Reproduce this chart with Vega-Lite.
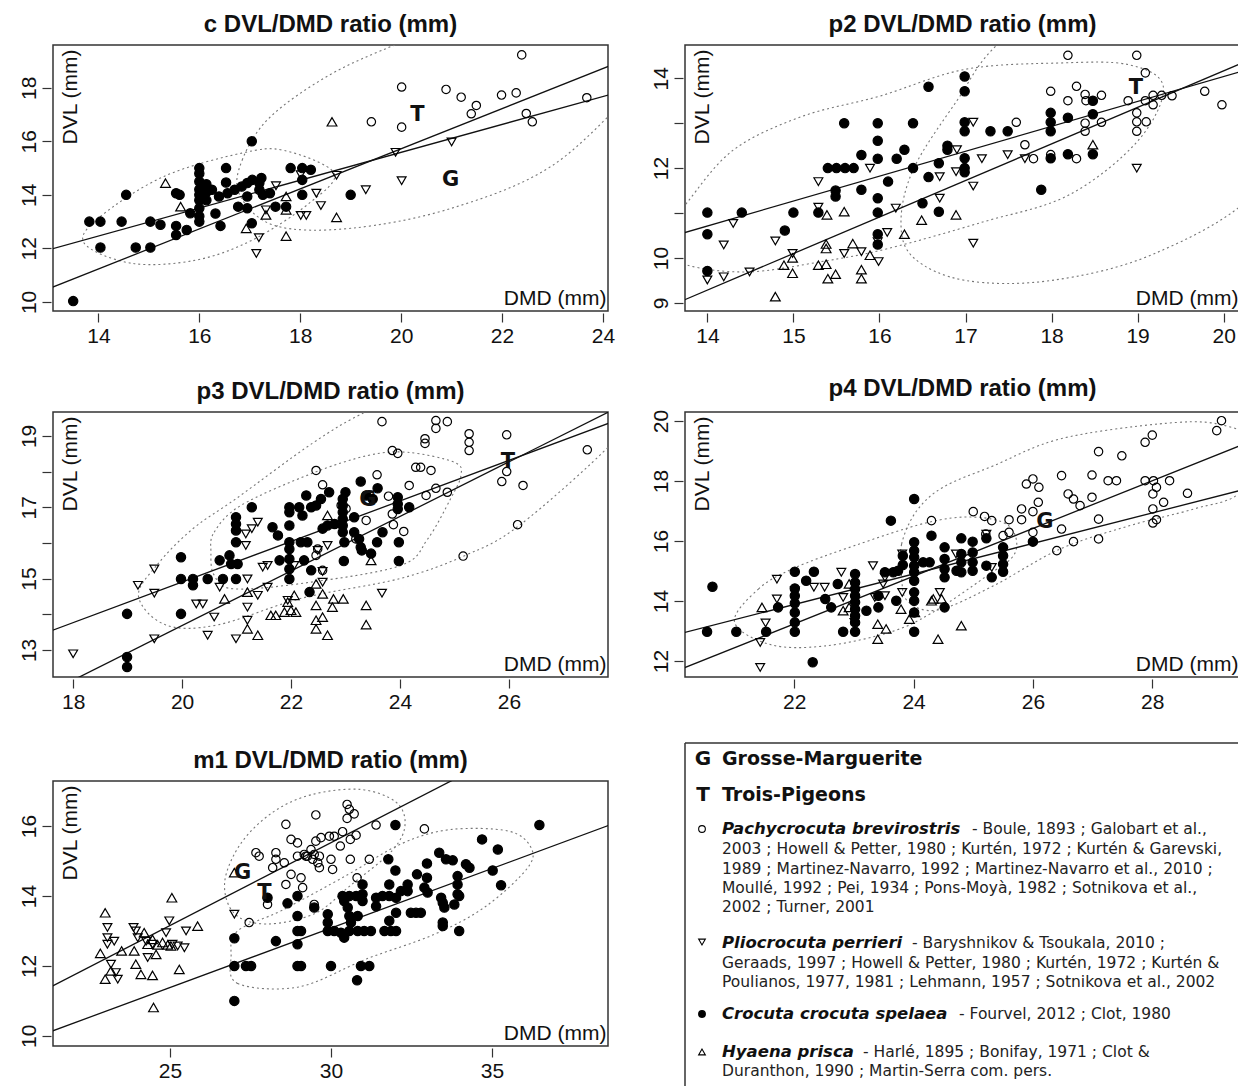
{
"$schema":"https://vega.github.io/schema/vega-lite/v6.json",
"background":"white",
"padding":{"left":17,"top":12,"right":0,"bottom":0},
"datasets":{
"cp":[
{"s":"P","x":22.39,"y":19.23},{"s":"P","x":20.01,"y":18.03},{"s":"P","x":20.89,"y":17.94},{"s":"P","x":21.19,"y":17.65},{"s":"P","x":21.99,"y":17.73},{"s":"P","x":22.28,"y":17.81},{"s":"P","x":21.49,"y":17.34},{"s":"P","x":21.39,"y":17.03},{"s":"P","x":22.48,"y":17.04},{"s":"P","x":22.6,"y":16.73},{"s":"P","x":23.68,"y":17.63},{"s":"P","x":19.41,"y":16.73},{"s":"P","x":20.01,"y":16.53},
{"s":"L","x":19.89,"y":15.59},{"s":"L","x":21.0,"y":15.98},{"s":"L","x":20.01,"y":14.53},{"s":"L","x":19.3,"y":14.19},{"s":"L","x":18.72,"y":14.73},{"s":"L","x":18.32,"y":14.06},{"s":"L","x":18.41,"y":13.6},{"s":"L","x":18.01,"y":13.23},{"s":"L","x":18.12,"y":13.23},{"s":"L","x":17.18,"y":12.4},{"s":"L","x":17.13,"y":11.81},{"s":"L","x":17.52,"y":14.34},{"s":"L","x":17.32,"y":13.44},{"s":"L","x":18.01,"y":14.75},
{"s":"H","x":15.33,"y":14.44},{"s":"H","x":18.63,"y":16.73},{"s":"H","x":15.63,"y":13.56},{"s":"H","x":16.93,"y":12.75},{"s":"H","x":17.32,"y":13.25},{"s":"H","x":17.72,"y":13.94},{"s":"H","x":17.72,"y":13.44},{"s":"H","x":17.72,"y":12.46},{"s":"H","x":18.72,"y":13.16},
{"s":"C","x":13.5,"y":10.03},{"s":"C","x":13.82,"y":13.0},{"s":"C","x":14.04,"y":13.0},{"s":"C","x":14.46,"y":13.0},{"s":"C","x":14.04,"y":12.03},{"s":"C","x":14.74,"y":12.03},{"s":"C","x":15.03,"y":12.03},{"s":"C","x":14.55,"y":14.0},{"s":"C","x":15.03,"y":13.0},{"s":"C","x":15.23,"y":12.88},{"s":"C","x":15.54,"y":14.06},{"s":"C","x":15.61,"y":14.0},{"s":"C","x":15.54,"y":12.84},{"s":"C","x":15.54,"y":12.5},{"s":"C","x":15.75,"y":12.69},{"s":"C","x":15.82,"y":13.31},{"s":"C","x":16.0,"y":15.0},{"s":"C","x":16.0,"y":14.8},{"s":"C","x":16.0,"y":14.5},{"s":"C","x":16.0,"y":14.2},{"s":"C","x":16.0,"y":14.0},{"s":"C","x":16.0,"y":13.8},{"s":"C","x":16.0,"y":13.5},{"s":"C","x":16.0,"y":13.2},{"s":"C","x":16.0,"y":13.0},{"s":"C","x":16.14,"y":14.4},{"s":"C","x":16.14,"y":14.1},{"s":"C","x":16.14,"y":13.8},{"s":"C","x":16.32,"y":13.3},{"s":"C","x":16.42,"y":12.84},{"s":"C","x":16.53,"y":15.0},{"s":"C","x":16.53,"y":14.46},{"s":"C","x":16.25,"y":14.19},{"s":"C","x":16.39,"y":13.94},{"s":"C","x":16.56,"y":14.06},{"s":"C","x":16.7,"y":14.19},{"s":"C","x":16.84,"y":14.31},{"s":"C","x":16.95,"y":14.44},{"s":"C","x":17.05,"y":14.56},{"s":"C","x":17.23,"y":14.63},{"s":"C","x":16.77,"y":13.56},{"s":"C","x":16.95,"y":13.94},{"s":"C","x":16.95,"y":13.5},{"s":"C","x":17.04,"y":16.0},{"s":"C","x":17.04,"y":12.94},{"s":"C","x":17.26,"y":14.0},{"s":"C","x":17.4,"y":14.06},{"s":"C","x":17.51,"y":13.56},{"s":"C","x":17.72,"y":13.56},{"s":"C","x":17.81,"y":15.0},{"s":"C","x":18.04,"y":15.0},{"s":"C","x":18.21,"y":14.94},{"s":"C","x":18.04,"y":14.56},{"s":"C","x":18.04,"y":14.0},{"s":"C","x":19.0,"y":14.0},{"s":"C","x":17.19,"y":14.44},{"s":"C","x":17.19,"y":14.19}
],
"cl":[{"g":1,"x":13.0,"y":11.94},{"g":1,"x":24.2,"y":17.78},{"g":2,"x":13.0,"y":10.48},{"g":2,"x":24.2,"y":18.87}],
"ct":[{"t":"G","x":20.98,"y":14.56},{"t":"T","x":20.32,"y":17.0}],
"ce":[
{"e":1,"i":0,"x":13.72,"y":12.19},{"e":1,"i":1,"x":14.04,"y":13.19},{"e":1,"i":2,"x":15.3,"y":14.69},{"e":1,"i":3,"x":16.84,"y":15.56},{"e":1,"i":4,"x":17.68,"y":15.66},{"e":1,"i":5,"x":18.67,"y":14.81},{"e":1,"i":6,"x":18.18,"y":13.69},{"e":1,"i":7,"x":17.05,"y":12.31},{"e":1,"i":8,"x":15.93,"y":11.56},{"e":1,"i":9,"x":14.67,"y":11.44},
{"e":2,"i":0,"x":16.8,"y":14.0},{"e":2,"i":1,"x":16.85,"y":15.3},{"e":2,"i":2,"x":17.4,"y":16.9},{"e":2,"i":3,"x":18.6,"y":18.5},{"e":2,"i":4,"x":20.0,"y":19.7},{"e":2,"i":5,"x":22.0,"y":21.2},{"e":2,"i":6,"x":24.5,"y":22.3},{"e":2,"i":7,"x":26.0,"y":22.0},{"e":2,"i":8,"x":26.0,"y":20.0},{"e":2,"i":9,"x":24.8,"y":18.2},{"e":2,"i":10,"x":23.0,"y":15.1},{"e":2,"i":11,"x":21.0,"y":13.5},{"e":2,"i":12,"x":19.0,"y":12.75},{"e":2,"i":13,"x":17.5,"y":12.85}
],
"p2p":[
{"s":"C","x":14.0,"y":11.01},{"s":"C","x":14.0,"y":10.53},{"s":"C","x":14.0,"y":9.71},{"s":"C","x":14.4,"y":11.01},{"s":"C","x":14.9,"y":10.61},{"s":"C","x":15.0,"y":11.01},{"s":"C","x":15.29,"y":11.01},{"s":"C","x":15.4,"y":12.0},{"s":"C","x":15.5,"y":12.0},{"s":"C","x":15.6,"y":12.0},{"s":"C","x":15.7,"y":12.0},{"s":"C","x":15.49,"y":11.5},{"s":"C","x":15.49,"y":11.37},{"s":"C","x":15.59,"y":13.0},{"s":"C","x":15.79,"y":12.29},{"s":"C","x":15.79,"y":11.52},{"s":"C","x":15.98,"y":13.0},{"s":"C","x":15.98,"y":12.61},{"s":"C","x":15.98,"y":12.21},{"s":"C","x":15.98,"y":11.33},{"s":"C","x":15.98,"y":11.01},{"s":"C","x":15.98,"y":10.53},{"s":"C","x":15.98,"y":10.3},{"s":"C","x":16.1,"y":11.7},{"s":"C","x":16.2,"y":12.21},{"s":"C","x":16.29,"y":12.41},{"s":"C","x":16.39,"y":13.0},{"s":"C","x":16.39,"y":12.0},{"s":"C","x":16.5,"y":11.22},{"s":"C","x":16.57,"y":13.81},{"s":"C","x":16.57,"y":11.8},{"s":"C","x":16.99,"y":14.04},{"s":"C","x":16.99,"y":13.71},{"s":"C","x":16.99,"y":13.02},{"s":"C","x":16.99,"y":12.82},{"s":"C","x":17.29,"y":12.82},{"s":"C","x":17.49,"y":12.82},{"s":"C","x":16.79,"y":12.5},{"s":"C","x":16.79,"y":12.41},{"s":"C","x":16.99,"y":12.22},{"s":"C","x":16.99,"y":12.0},{"s":"C","x":16.99,"y":11.91},{"s":"C","x":16.69,"y":12.11},{"s":"C","x":16.69,"y":11.03},{"s":"C","x":17.99,"y":13.23},{"s":"C","x":17.99,"y":13.02},{"s":"C","x":17.99,"y":12.82},{"s":"C","x":18.19,"y":13.12},{"s":"C","x":18.48,"y":13.5},{"s":"C","x":18.48,"y":13.2},{"s":"C","x":17.99,"y":12.22},{"s":"C","x":18.19,"y":12.31},{"s":"C","x":18.48,"y":12.31},{"s":"C","x":17.88,"y":11.52},
{"s":"L","x":14.0,"y":9.51},{"s":"L","x":14.19,"y":10.29},{"s":"L","x":14.3,"y":10.77},{"s":"L","x":14.19,"y":9.58},{"s":"L","x":14.49,"y":9.69},{"s":"L","x":14.79,"y":10.38},{"s":"L","x":14.99,"y":10.1},{"s":"L","x":15.29,"y":11.7},{"s":"L","x":15.29,"y":11.13},{"s":"L","x":15.59,"y":10.1},{"s":"L","x":15.89,"y":12.0},{"s":"L","x":15.79,"y":10.14},{"s":"L","x":15.98,"y":10.36},{"s":"L","x":16.09,"y":10.57},{"s":"L","x":16.19,"y":11.11},{"s":"L","x":15.99,"y":9.92},{"s":"L","x":17.09,"y":13.02},{"s":"L","x":16.9,"y":12.41},{"s":"L","x":17.19,"y":12.21},{"s":"L","x":17.49,"y":12.3},{"s":"L","x":17.69,"y":12.21},{"s":"L","x":16.7,"y":11.81},{"s":"L","x":16.89,"y":11.92},{"s":"L","x":17.09,"y":11.6},{"s":"L","x":16.7,"y":11.33},{"s":"L","x":17.09,"y":10.33},{"s":"L","x":18.99,"y":12.0},
{"s":"H","x":14.79,"y":9.14},{"s":"H","x":14.89,"y":9.84},{"s":"H","x":14.99,"y":10.0},{"s":"H","x":14.99,"y":9.66},{"s":"H","x":15.29,"y":9.84},{"s":"H","x":15.38,"y":10.31},{"s":"H","x":15.38,"y":10.21},{"s":"H","x":15.38,"y":9.86},{"s":"H","x":15.4,"y":9.54},{"s":"H","x":15.49,"y":9.64},{"s":"H","x":15.59,"y":11.03},{"s":"H","x":15.69,"y":10.32},{"s":"H","x":15.79,"y":9.74},{"s":"H","x":15.79,"y":9.54},{"s":"H","x":15.89,"y":10.06},{"s":"H","x":16.29,"y":10.53},{"s":"H","x":16.49,"y":10.84},{"s":"H","x":15.39,"y":10.96},{"s":"H","x":16.89,"y":10.96},{"s":"H","x":18.48,"y":12.52},
{"s":"P","x":18.19,"y":14.51},{"s":"P","x":18.99,"y":14.51},{"s":"P","x":19.09,"y":14.12},{"s":"P","x":18.29,"y":13.82},{"s":"P","x":17.99,"y":13.71},{"s":"P","x":18.19,"y":13.5},{"s":"P","x":18.39,"y":13.64},{"s":"P","x":18.4,"y":13.5},{"s":"P","x":18.58,"y":13.62},{"s":"P","x":18.89,"y":13.5},{"s":"P","x":19.09,"y":13.5},{"s":"P","x":19.18,"y":13.62},{"s":"P","x":19.28,"y":13.62},{"s":"P","x":19.4,"y":13.61},{"s":"P","x":19.18,"y":13.41},{"s":"P","x":18.99,"y":13.23},{"s":"P","x":18.99,"y":13.03},{"s":"P","x":19.1,"y":13.03},{"s":"P","x":18.99,"y":12.82},{"s":"P","x":19.78,"y":13.71},{"s":"P","x":19.98,"y":13.41},{"s":"P","x":18.58,"y":13.02},{"s":"P","x":18.39,"y":13.0},{"s":"P","x":18.39,"y":12.82},{"s":"P","x":17.59,"y":13.02},{"s":"P","x":17.69,"y":12.52},{"s":"P","x":17.79,"y":12.21},{"s":"P","x":17.99,"y":12.3},{"s":"P","x":18.29,"y":12.21}
],
"p2l":[{"g":1,"x":13.6,"y":10.49},{"g":1,"x":20.4,"y":14.26},{"g":2,"x":13.6,"y":8.96},{"g":2,"x":20.4,"y":14.49}],
"p2t":[{"t":"T","x":18.98,"y":13.78}],
"p2e":[
{"e":1,"i":0,"x":13.4,"y":10.3},{"e":1,"i":1,"x":13.75,"y":11.2},{"e":1,"i":2,"x":14.3,"y":12.4},{"e":1,"i":3,"x":15.1,"y":13.15},{"e":1,"i":4,"x":16.0,"y":13.6},{"e":1,"i":5,"x":17.0,"y":14.2},{"e":1,"i":6,"x":18.1,"y":14.34},{"e":1,"i":7,"x":18.9,"y":14.3},{"e":1,"i":8,"x":19.3,"y":13.8},{"e":1,"i":9,"x":19.0,"y":12.6},{"e":1,"i":10,"x":18.2,"y":11.4},{"e":1,"i":11,"x":17.2,"y":10.8},{"e":1,"i":12,"x":16.1,"y":10.21},{"e":1,"i":13,"x":15.33,"y":9.92},{"e":1,"i":14,"x":14.47,"y":9.69},{"e":1,"i":15,"x":13.75,"y":9.85},
{"e":2,"i":0,"x":16.25,"y":10.8},{"e":2,"i":1,"x":16.4,"y":12.0},{"e":2,"i":2,"x":16.9,"y":13.5},{"e":2,"i":3,"x":17.4,"y":14.8},{"e":2,"i":4,"x":18.5,"y":16.2},{"e":2,"i":5,"x":20.0,"y":16.8},{"e":2,"i":6,"x":21.2,"y":16.2},{"e":2,"i":7,"x":21.2,"y":14.0},{"e":2,"i":8,"x":20.4,"y":11.5},{"e":2,"i":9,"x":19.2,"y":10.1},{"e":2,"i":10,"x":18.0,"y":9.5},{"e":2,"i":11,"x":17.0,"y":9.5},{"e":2,"i":12,"x":16.4,"y":10.0}
],
"p3p":[
{"s":"L","x":18.0,"y":12.89},{"s":"L","x":19.19,"y":14.81},{"s":"L","x":19.49,"y":15.27},{"s":"L","x":19.49,"y":14.59},{"s":"L","x":19.49,"y":13.31},{"s":"L","x":20.26,"y":14.29},{"s":"L","x":20.38,"y":14.29},{"s":"L","x":20.59,"y":13.92},{"s":"L","x":20.47,"y":13.41},{"s":"L","x":20.69,"y":14.76},{"s":"L","x":20.99,"y":13.31},{"s":"L","x":21.17,"y":16.25},{"s":"L","x":21.28,"y":16.4},{"s":"L","x":21.39,"y":16.58},{"s":"L","x":21.17,"y":15.93},{"s":"L","x":21.2,"y":14.99},{"s":"L","x":21.2,"y":14.2},{"s":"L","x":21.2,"y":13.83},{"s":"L","x":21.39,"y":14.53},{"s":"L","x":21.48,"y":15.32},{"s":"L","x":21.57,"y":15.37},{"s":"L","x":21.57,"y":14.76},{"s":"L","x":22.06,"y":15.37},{"s":"L","x":21.94,"y":14.39},{"s":"L","x":22.67,"y":15.93},{"s":"L","x":22.49,"y":15.79},{"s":"L","x":22.58,"y":15.2},{"s":"L","x":22.58,"y":14.9},{"s":"L","x":23.67,"y":14.59},
{"s":"H","x":20.78,"y":14.43},{"s":"H","x":21.2,"y":14.62},{"s":"H","x":21.2,"y":13.59},{"s":"H","x":21.39,"y":13.41},{"s":"H","x":21.63,"y":13.97},{"s":"H","x":21.72,"y":13.97},{"s":"H","x":21.88,"y":14.06},{"s":"H","x":22.0,"y":14.11},{"s":"H","x":22.09,"y":14.06},{"s":"H","x":21.94,"y":14.34},{"s":"H","x":22.06,"y":14.53},{"s":"H","x":22.67,"y":16.77},{"s":"H","x":23.47,"y":15.51},{"s":"H","x":22.46,"y":14.85},{"s":"H","x":22.58,"y":14.57},{"s":"H","x":22.46,"y":14.25},{"s":"H","x":22.46,"y":13.83},{"s":"H","x":22.46,"y":13.59},{"s":"H","x":22.58,"y":13.92},{"s":"H","x":22.78,"y":14.43},{"s":"H","x":22.96,"y":14.43},{"s":"H","x":22.76,"y":14.2},{"s":"H","x":23.38,"y":14.25},{"s":"H","x":23.38,"y":13.71},{"s":"H","x":22.67,"y":13.41},
{"s":"C","x":18.99,"y":14.01},{"s":"C","x":18.99,"y":12.8},{"s":"C","x":18.99,"y":12.52},{"s":"C","x":19.98,"y":15.6},{"s":"C","x":19.98,"y":14.99},{"s":"C","x":19.98,"y":14.01},{"s":"C","x":20.2,"y":14.99},{"s":"C","x":20.2,"y":14.81},{"s":"C","x":20.47,"y":14.99},{"s":"C","x":20.69,"y":15.51},{"s":"C","x":20.75,"y":14.99},{"s":"C","x":20.87,"y":15.65},{"s":"C","x":20.9,"y":15.41},{"s":"C","x":20.99,"y":16.72},{"s":"C","x":20.99,"y":16.53},{"s":"C","x":20.99,"y":16.35},{"s":"C","x":20.99,"y":16.02},{"s":"C","x":20.99,"y":14.99},{"s":"C","x":21.02,"y":15.41},{"s":"C","x":21.28,"y":17.0},{"s":"C","x":21.66,"y":16.44},{"s":"C","x":21.76,"y":16.21},{"s":"C","x":21.79,"y":15.51},{"s":"C","x":21.97,"y":17.0},{"s":"C","x":21.97,"y":16.86},{"s":"C","x":21.97,"y":16.49},{"s":"C","x":21.97,"y":16.02},{"s":"C","x":21.97,"y":15.83},{"s":"C","x":21.97,"y":15.55},{"s":"C","x":21.97,"y":15.27},{"s":"C","x":21.97,"y":14.99},{"s":"C","x":22.28,"y":17.33},{"s":"C","x":22.15,"y":17.0},{"s":"C","x":22.21,"y":16.77},{"s":"C","x":22.18,"y":16.02},{"s":"C","x":22.3,"y":16.02},{"s":"C","x":22.24,"y":15.51},{"s":"C","x":22.34,"y":14.62},{"s":"C","x":23.28,"y":17.72},{"s":"C","x":23.59,"y":17.53},{"s":"C","x":23.0,"y":17.42},{"s":"C","x":22.7,"y":17.42},{"s":"C","x":22.55,"y":17.23},{"s":"C","x":22.37,"y":17.0},{"s":"C","x":22.46,"y":17.05},{"s":"C","x":22.95,"y":17.23},{"s":"C","x":22.95,"y":17.05},{"s":"C","x":22.95,"y":16.86},{"s":"C","x":22.95,"y":16.67},{"s":"C","x":22.95,"y":16.49},{"s":"C","x":22.95,"y":16.3},{"s":"C","x":22.8,"y":16.53},{"s":"C","x":22.67,"y":16.49},{"s":"C","x":22.58,"y":16.4},{"s":"C","x":23.16,"y":16.72},{"s":"C","x":23.16,"y":16.3},{"s":"C","x":23.25,"y":16.11},{"s":"C","x":23.38,"y":17.33},{"s":"C","x":23.5,"y":17.23},{"s":"C","x":23.96,"y":17.28},{"s":"C","x":23.96,"y":17.09},{"s":"C","x":23.96,"y":16.95},{"s":"C","x":24.17,"y":17.0},{"s":"C","x":23.68,"y":16.3},{"s":"C","x":23.58,"y":16.02},{"s":"C","x":22.98,"y":16.02},{"s":"C","x":23.28,"y":15.88},{"s":"C","x":23.3,"y":15.79},{"s":"C","x":23.47,"y":15.7},{"s":"C","x":22.97,"y":15.49},{"s":"C","x":23.98,"y":16.02},{"s":"C","x":23.98,"y":15.49},{"s":"C","x":22.37,"y":15.23},
{"s":"P","x":23.67,"y":19.4},{"s":"P","x":24.66,"y":19.43},{"s":"P","x":24.66,"y":19.21},{"s":"P","x":24.87,"y":19.4},{"s":"P","x":24.46,"y":18.92},{"s":"P","x":24.46,"y":18.79},{"s":"P","x":25.27,"y":19.06},{"s":"P","x":25.27,"y":18.82},{"s":"P","x":25.27,"y":18.59},{"s":"P","x":25.96,"y":19.03},{"s":"P","x":27.44,"y":18.61},{"s":"P","x":23.86,"y":18.59},{"s":"P","x":23.96,"y":18.51},{"s":"P","x":24.29,"y":18.12},{"s":"P","x":24.38,"y":18.12},{"s":"P","x":24.57,"y":18.03},{"s":"P","x":22.46,"y":18.03},{"s":"P","x":23.58,"y":17.91},{"s":"P","x":25.96,"y":18.0},{"s":"P","x":25.87,"y":17.72},{"s":"P","x":26.26,"y":17.61},{"s":"P","x":24.17,"y":17.61},{"s":"P","x":24.66,"y":17.53},{"s":"P","x":24.87,"y":17.42},{"s":"P","x":24.48,"y":17.33},{"s":"P","x":22.58,"y":17.63},{"s":"P","x":23.79,"y":17.31},{"s":"P","x":23.86,"y":16.81},{"s":"P","x":23.38,"y":16.63},{"s":"P","x":24.07,"y":16.32},{"s":"P","x":23.88,"y":16.51},{"s":"P","x":26.16,"y":16.51},{"s":"P","x":25.16,"y":15.63},{"s":"P","x":22.46,"y":15.65},{"s":"P","x":22.49,"y":15.83},{"s":"P","x":22.92,"y":17.05},{"s":"P","x":23.01,"y":16.96},{"s":"P","x":22.58,"y":15.23},{"s":"P","x":23.19,"y":16.11}
],
"p3l":[{"g":1,"x":17.5,"y":13.48},{"g":1,"x":28.0,"y":19.45},{"g":2,"x":17.5,"y":11.77},{"g":2,"x":28.0,"y":19.8}],
"p3t":[{"t":"G","x":23.41,"y":17.19},{"t":"T","x":25.98,"y":18.26}],
"p3e":[
{"e":1,"i":0,"x":19.2,"y":14.5},{"e":1,"i":1,"x":19.55,"y":15.4},{"e":1,"i":2,"x":20.2,"y":16.4},{"e":1,"i":3,"x":21.0,"y":17.25},{"e":1,"i":4,"x":22.4,"y":18.8},{"e":1,"i":5,"x":23.4,"y":19.7},{"e":1,"i":6,"x":25.0,"y":20.8},{"e":1,"i":7,"x":27.5,"y":21.5},{"e":1,"i":8,"x":28.8,"y":20.5},{"e":1,"i":9,"x":27.9,"y":18.8},{"e":1,"i":10,"x":26.2,"y":16.5},{"e":1,"i":11,"x":25.2,"y":15.65},{"e":1,"i":12,"x":24.0,"y":15.0},{"e":1,"i":13,"x":22.2,"y":14.45},{"e":1,"i":14,"x":20.65,"y":13.7},{"e":1,"i":15,"x":19.7,"y":13.7},
{"e":2,"i":0,"x":20.53,"y":15.74},{"e":2,"i":1,"x":20.59,"y":16.3},{"e":2,"i":2,"x":21.08,"y":17.05},{"e":2,"i":3,"x":22.37,"y":17.94},{"e":2,"i":4,"x":23.41,"y":18.45},{"e":2,"i":5,"x":24.14,"y":18.54},{"e":2,"i":6,"x":25.0,"y":18.26},{"e":2,"i":7,"x":25.12,"y":17.89},{"e":2,"i":8,"x":24.93,"y":17.24},{"e":2,"i":9,"x":24.51,"y":16.11},{"e":2,"i":10,"x":24.02,"y":15.37},{"e":2,"i":11,"x":22.37,"y":14.9},{"e":2,"i":12,"x":20.96,"y":14.71},{"e":2,"i":13,"x":20.59,"y":15.09}
],
"p4p":[
{"s":"C","x":20.54,"y":12.98},{"s":"C","x":20.63,"y":14.48},{"s":"C","x":21.03,"y":12.98},{"s":"C","x":21.53,"y":12.98},{"s":"C","x":21.73,"y":13.79},{"s":"C","x":22.01,"y":14.98},{"s":"C","x":22.01,"y":14.42},{"s":"C","x":22.01,"y":14.18},{"s":"C","x":22.01,"y":13.93},{"s":"C","x":22.01,"y":13.62},{"s":"C","x":22.01,"y":13.29},{"s":"C","x":22.01,"y":12.98},{"s":"C","x":22.2,"y":14.68},{"s":"C","x":22.33,"y":14.98},{"s":"C","x":22.31,"y":11.96},{"s":"C","x":22.52,"y":14.07},{"s":"C","x":22.62,"y":13.79},{"s":"C","x":22.73,"y":14.57},{"s":"C","x":22.82,"y":12.98},{"s":"C","x":23.02,"y":14.9},{"s":"C","x":23.02,"y":14.62},{"s":"C","x":23.02,"y":14.4},{"s":"C","x":23.02,"y":14.18},{"s":"C","x":23.02,"y":13.96},{"s":"C","x":23.02,"y":13.73},{"s":"C","x":23.02,"y":13.51},{"s":"C","x":23.02,"y":13.29},{"s":"C","x":23.02,"y":12.98},{"s":"C","x":23.21,"y":13.68},{"s":"C","x":23.41,"y":13.79},{"s":"C","x":23.41,"y":14.18},{"s":"C","x":23.62,"y":16.68},{"s":"C","x":23.71,"y":14.01},{"s":"C","x":23.52,"y":14.96},{"s":"C","x":23.66,"y":14.96},{"s":"C","x":23.74,"y":15.01},{"s":"C","x":23.82,"y":15.2},{"s":"C","x":23.82,"y":15.51},{"s":"C","x":24.01,"y":17.4},{"s":"C","x":24.01,"y":15.96},{"s":"C","x":24.01,"y":15.68},{"s":"C","x":24.01,"y":15.46},{"s":"C","x":24.01,"y":15.18},{"s":"C","x":24.01,"y":14.96},{"s":"C","x":24.01,"y":14.68},{"s":"C","x":24.01,"y":14.29},{"s":"C","x":24.01,"y":14.01},{"s":"C","x":24.01,"y":13.62},{"s":"C","x":24.01,"y":12.98},{"s":"C","x":24.16,"y":15.29},{"s":"C","x":24.3,"y":16.18},{"s":"C","x":24.52,"y":15.79},{"s":"C","x":24.8,"y":16.09},{"s":"C","x":24.99,"y":15.98},{"s":"C","x":25.22,"y":16.09},{"s":"C","x":25.5,"y":15.79},{"s":"C","x":25.5,"y":15.51},{"s":"C","x":25.5,"y":15.23},{"s":"C","x":25.5,"y":14.98},{"s":"C","x":25.31,"y":14.79},{"s":"C","x":25.22,"y":15.18},{"s":"C","x":24.99,"y":15.62},{"s":"C","x":24.99,"y":15.29},{"s":"C","x":24.99,"y":15.01},{"s":"C","x":24.8,"y":15.57},{"s":"C","x":24.8,"y":15.29},{"s":"C","x":24.8,"y":14.96},{"s":"C","x":24.52,"y":15.4},{"s":"C","x":24.52,"y":15.07},{"s":"C","x":24.52,"y":14.79},{"s":"C","x":24.72,"y":15.01},{"s":"C","x":24.27,"y":15.29},{"s":"C","x":26.0,"y":15.98},{"s":"C","x":24.52,"y":13.79},
{"s":"L","x":21.43,"y":11.79},{"s":"L","x":21.43,"y":12.62},{"s":"L","x":21.52,"y":13.27},{"s":"L","x":21.71,"y":14.73},{"s":"L","x":21.71,"y":14.07},{"s":"L","x":22.01,"y":14.34},{"s":"L","x":22.33,"y":14.46},{"s":"L","x":22.51,"y":14.46},{"s":"L","x":22.79,"y":14.96},{"s":"L","x":22.82,"y":14.12},{"s":"L","x":23.01,"y":14.29},{"s":"L","x":23.01,"y":13.29},{"s":"L","x":23.32,"y":15.18},{"s":"L","x":23.49,"y":14.57},{"s":"L","x":23.52,"y":14.79},{"s":"L","x":23.52,"y":14.18},{"s":"L","x":23.81,"y":15.57},{"s":"L","x":23.81,"y":14.29},{"s":"L","x":23.35,"y":14.12},{"s":"L","x":24.71,"y":15.57},{"s":"L","x":25.22,"y":16.23},{"s":"L","x":25.31,"y":15.12},{"s":"L","x":24.44,"y":14.29},
{"s":"H","x":21.46,"y":13.79},{"s":"H","x":22.82,"y":13.68},{"s":"H","x":23.4,"y":12.73},{"s":"H","x":23.4,"y":13.23},{"s":"H","x":23.54,"y":13.07},{"s":"H","x":23.79,"y":13.73},{"s":"H","x":23.93,"y":13.4},{"s":"H","x":22.92,"y":14.57},{"s":"H","x":22.92,"y":13.79},{"s":"H","x":24.3,"y":14.01},{"s":"H","x":24.02,"y":13.62},{"s":"H","x":24.33,"y":14.07},{"s":"H","x":24.47,"y":14.07},{"s":"H","x":24.8,"y":13.18},{"s":"H","x":24.41,"y":12.73},
{"s":"P","x":29.16,"y":20.01},{"s":"P","x":29.08,"y":19.68},{"s":"P","x":28.0,"y":19.53},{"s":"P","x":27.88,"y":19.29},{"s":"P","x":27.1,"y":18.98},{"s":"P","x":27.49,"y":18.84},{"s":"P","x":26.48,"y":18.18},{"s":"P","x":26.99,"y":18.2},{"s":"P","x":27.26,"y":18.01},{"s":"P","x":27.4,"y":18.01},{"s":"P","x":27.88,"y":18.01},{"s":"P","x":28.02,"y":18.01},{"s":"P","x":28.29,"y":18.01},{"s":"P","x":28.07,"y":17.79},{"s":"P","x":28.01,"y":17.57},{"s":"P","x":28.59,"y":17.59},{"s":"P","x":28.19,"y":17.29},{"s":"P","x":28.01,"y":17.07},{"s":"P","x":28.01,"y":16.6},{"s":"P","x":28.07,"y":16.71},{"s":"P","x":25.89,"y":17.9},{"s":"P","x":26.0,"y":18.07},{"s":"P","x":26.1,"y":17.79},{"s":"P","x":26.59,"y":17.57},{"s":"P","x":26.68,"y":17.4},{"s":"P","x":26.79,"y":17.18},{"s":"P","x":26.99,"y":17.46},{"s":"P","x":26.09,"y":17.29},{"s":"P","x":25.81,"y":17.07},{"s":"P","x":26.0,"y":16.98},{"s":"P","x":25.0,"y":16.98},{"s":"P","x":25.19,"y":16.82},{"s":"P","x":25.31,"y":16.68},{"s":"P","x":25.6,"y":16.71},{"s":"P","x":25.81,"y":16.71},{"s":"P","x":27.1,"y":16.73},{"s":"P","x":27.1,"y":16.07},{"s":"P","x":26.68,"y":15.98},{"s":"P","x":26.48,"y":16.4},{"s":"P","x":26.4,"y":15.68},{"s":"P","x":26.0,"y":16.29},{"s":"P","x":25.6,"y":16.29},{"s":"P","x":25.5,"y":16.18},{"s":"P","x":24.3,"y":16.68},{"s":"P","x":25.21,"y":16.23}
],
"p4l":[{"g":1,"x":20.0,"y":12.87},{"g":1,"x":29.6,"y":17.75},{"g":2,"x":20.0,"y":11.65},{"g":2,"x":29.6,"y":19.28}],
"p4t":[{"t":"G","x":26.2,"y":16.62}],
"p4e":[
{"e":1,"i":0,"x":21.0,"y":13.3},{"e":1,"i":1,"x":21.4,"y":14.4},{"e":1,"i":2,"x":22.0,"y":15.1},{"e":1,"i":3,"x":23.0,"y":15.84},{"e":1,"i":4,"x":24.2,"y":16.6},{"e":1,"i":5,"x":25.0,"y":16.8},{"e":1,"i":6,"x":25.6,"y":16.5},{"e":1,"i":7,"x":25.7,"y":15.6},{"e":1,"i":8,"x":25.2,"y":14.8},{"e":1,"i":9,"x":24.3,"y":13.6},{"e":1,"i":10,"x":23.6,"y":12.96},{"e":1,"i":11,"x":22.5,"y":12.5},{"e":1,"i":12,"x":21.6,"y":12.55},
{"e":2,"i":0,"x":23.8,"y":14.8},{"e":2,"i":1,"x":23.8,"y":15.9},{"e":2,"i":2,"x":24.05,"y":17.0},{"e":2,"i":3,"x":24.5,"y":17.8},{"e":2,"i":4,"x":25.33,"y":18.5},{"e":2,"i":5,"x":26.45,"y":19.4},{"e":2,"i":6,"x":28.1,"y":19.9},{"e":2,"i":7,"x":29.1,"y":19.9},{"e":2,"i":8,"x":29.8,"y":19.2},{"e":2,"i":9,"x":29.47,"y":17.62},{"e":2,"i":10,"x":28.7,"y":17.07},{"e":2,"i":11,"x":27.6,"y":16.5},{"e":2,"i":12,"x":26.45,"y":15.73},{"e":2,"i":13,"x":25.33,"y":14.5},{"e":2,"i":14,"x":24.4,"y":13.7},{"e":2,"i":15,"x":23.9,"y":14.0}
],
"m1p":[
{"s":"H","x":22.99,"y":13.52},{"s":"H","x":22.84,"y":12.36},{"s":"H","x":22.99,"y":11.62},{"s":"H","x":23.5,"y":12.43},{"s":"H","x":23.89,"y":12.43},{"s":"H","x":24.1,"y":11.76},{"s":"H","x":23.94,"y":12.05},{"s":"H","x":24.2,"y":12.95},{"s":"H","x":24.31,"y":12.62},{"s":"H","x":24.46,"y":12.76},{"s":"H","x":24.46,"y":11.73},{"s":"H","x":24.49,"y":10.81},{"s":"H","x":24.57,"y":12.33},{"s":"H","x":24.77,"y":12.67},{"s":"H","x":25.06,"y":13.95},{"s":"H","x":25.29,"y":11.9},{"s":"H","x":25.03,"y":12.57},{"s":"H","x":25.86,"y":13.14},{"s":"H","x":24.62,"y":12.6},{"s":"H","x":24.93,"y":12.6},{"s":"H","x":23.17,"y":11.86},{"s":"H","x":27.0,"y":14.67},
{"s":"L","x":23.06,"y":13.1},{"s":"L","x":23.06,"y":12.81},{"s":"L","x":23.06,"y":12.62},{"s":"L","x":23.27,"y":12.71},{"s":"L","x":23.17,"y":12.05},{"s":"L","x":23.32,"y":11.81},{"s":"L","x":23.38,"y":11.62},{"s":"L","x":23.87,"y":13.1},{"s":"L","x":23.94,"y":13.0},{"s":"L","x":24.0,"y":12.81},{"s":"L","x":24.26,"y":12.71},{"s":"L","x":24.31,"y":12.24},{"s":"L","x":24.46,"y":12.62},{"s":"L","x":24.98,"y":13.29},{"s":"L","x":24.88,"y":12.95},{"s":"L","x":25.08,"y":12.62},{"s":"L","x":25.24,"y":12.57},{"s":"L","x":25.45,"y":12.52},{"s":"L","x":25.5,"y":13.0},{"s":"L","x":27.0,"y":13.48},
{"s":"C","x":27.0,"y":12.79},{"s":"C","x":27.0,"y":12.0},{"s":"C","x":27.0,"y":11.0},{"s":"C","x":27.36,"y":12.0},{"s":"C","x":27.52,"y":12.0},{"s":"C","x":28.03,"y":13.95},{"s":"C","x":28.29,"y":12.71},{"s":"C","x":28.65,"y":13.79},{"s":"C","x":28.96,"y":14.0},{"s":"C","x":28.96,"y":13.43},{"s":"C","x":28.96,"y":13.0},{"s":"C","x":28.96,"y":12.62},{"s":"C","x":28.96,"y":12.0},{"s":"C","x":32.0,"y":16.03},{"s":"C","x":36.47,"y":16.03},{"s":"C","x":34.69,"y":15.62},{"s":"C","x":35.18,"y":15.33},{"s":"C","x":33.36,"y":15.24},{"s":"C","x":33.57,"y":15.05},{"s":"C","x":33.78,"y":15.02},{"s":"C","x":31.78,"y":15.05},{"s":"C","x":32.98,"y":14.93},{"s":"C","x":34.19,"y":14.91},{"s":"C","x":34.3,"y":14.81},{"s":"C","x":32.0,"y":14.73},{"s":"C","x":32.67,"y":14.62},{"s":"C","x":32.98,"y":14.52},{"s":"C","x":33.93,"y":14.57},{"s":"C","x":33.93,"y":14.33},{"s":"C","x":33.93,"y":14.05},{"s":"C","x":35.02,"y":14.73},{"s":"C","x":35.28,"y":14.31},{"s":"C","x":30.98,"y":14.33},{"s":"C","x":31.81,"y":14.33},{"s":"C","x":31.81,"y":14.0},{"s":"C","x":32.38,"y":14.33},{"s":"C","x":32.38,"y":14.14},{"s":"C","x":32.9,"y":14.24},{"s":"C","x":33.0,"y":14.1},{"s":"C","x":32.17,"y":14.14},{"s":"C","x":32.02,"y":13.95},{"s":"C","x":31.6,"y":14.0},{"s":"C","x":31.4,"y":13.95},{"s":"C","x":31.4,"y":13.71},{"s":"C","x":30.98,"y":14.05},{"s":"C","x":30.98,"y":13.86},{"s":"C","x":30.36,"y":14.0},{"s":"C","x":30.57,"y":14.0},{"s":"C","x":30.78,"y":14.0},{"s":"C","x":30.41,"y":13.86},{"s":"C","x":30.52,"y":13.67},{"s":"C","x":30.57,"y":13.43},{"s":"C","x":30.62,"y":13.24},{"s":"C","x":30.57,"y":13.0},{"s":"C","x":29.9,"y":13.48},{"s":"C","x":29.9,"y":13.24},{"s":"C","x":29.9,"y":13.0},{"s":"C","x":29.48,"y":13.67},{"s":"C","x":30.1,"y":13.0},{"s":"C","x":30.31,"y":12.95},{"s":"C","x":30.41,"y":12.81},{"s":"C","x":30.83,"y":13.43},{"s":"C","x":30.83,"y":13.0},{"s":"C","x":31.03,"y":13.0},{"s":"C","x":31.24,"y":13.0},{"s":"C","x":31.66,"y":13.0},{"s":"C","x":31.86,"y":13.0},{"s":"C","x":32.02,"y":13.0},{"s":"C","x":31.81,"y":13.29},{"s":"C","x":32.02,"y":13.52},{"s":"C","x":32.48,"y":13.52},{"s":"C","x":32.64,"y":13.52},{"s":"C","x":32.79,"y":13.52},{"s":"C","x":33.42,"y":13.95},{"s":"C","x":33.47,"y":13.81},{"s":"C","x":33.52,"y":13.67},{"s":"C","x":33.83,"y":13.76},{"s":"C","x":33.98,"y":14.0},{"s":"C","x":33.47,"y":13.24},{"s":"C","x":33.47,"y":13.14},{"s":"C","x":33.98,"y":13.0},{"s":"C","x":30.0,"y":12.0},{"s":"C","x":30.93,"y":12.0},{"s":"C","x":31.19,"y":12.0},{"s":"C","x":30.81,"y":11.59},{"s":"C","x":29.07,"y":12.0},{"s":"C","x":29.07,"y":13.0},
{"s":"P","x":28.6,"y":16.05},{"s":"P","x":28.76,"y":15.62},{"s":"P","x":28.96,"y":15.52},{"s":"P","x":27.67,"y":15.24},{"s":"P","x":27.77,"y":15.14},{"s":"P","x":28.29,"y":15.24},{"s":"P","x":28.29,"y":15.05},{"s":"P","x":28.19,"y":14.81},{"s":"P","x":28.55,"y":14.95},{"s":"P","x":28.96,"y":15.14},{"s":"P","x":28.76,"y":14.62},{"s":"P","x":29.07,"y":14.52},{"s":"P","x":29.12,"y":14.24},{"s":"P","x":28.6,"y":14.33},{"s":"P","x":28.03,"y":13.76},{"s":"P","x":27.46,"y":13.24},{"s":"P","x":29.22,"y":15.14},{"s":"P","x":30.5,"y":16.62},{"s":"P","x":30.57,"y":16.48},{"s":"P","x":30.72,"y":16.35},{"s":"P","x":30.5,"y":16.22},{"s":"P","x":29.53,"y":16.32},{"s":"P","x":31.4,"y":16.03},{"s":"P","x":32.9,"y":15.92},{"s":"P","x":30.36,"y":15.84},{"s":"P","x":30.1,"y":15.71},{"s":"P","x":29.95,"y":15.71},{"s":"P","x":29.69,"y":15.67},{"s":"P","x":29.53,"y":15.57},{"s":"P","x":30.6,"y":15.62},{"s":"P","x":30.78,"y":15.74},{"s":"P","x":30.29,"y":15.43},{"s":"P","x":29.38,"y":15.33},{"s":"P","x":29.17,"y":15.19},{"s":"P","x":29.27,"y":15.14},{"s":"P","x":29.48,"y":15.19},{"s":"P","x":29.64,"y":15.14},{"s":"P","x":29.43,"y":15.05},{"s":"P","x":29.59,"y":14.95},{"s":"P","x":29.64,"y":14.81},{"s":"P","x":30.0,"y":15.05},{"s":"P","x":30.05,"y":14.76},{"s":"P","x":30.6,"y":15.05},{"s":"P","x":31.19,"y":15.05},{"s":"P","x":30.81,"y":14.52},{"s":"P","x":29.48,"y":13.76}
],
"m1l":[{"g":1,"x":21.0,"y":11.26},{"g":1,"x":39.0,"y":19.79},{"g":2,"x":21.0,"y":10.02},{"g":2,"x":39.0,"y":16.15}],
"m1t":[{"t":"G","x":27.26,"y":14.67},{"t":"T","x":27.93,"y":14.1}],
"m1e":[
{"e":1,"i":0,"x":26.7,"y":14.4},{"e":1,"i":1,"x":27.2,"y":15.5},{"e":1,"i":2,"x":28.2,"y":16.4},{"e":1,"i":3,"x":29.4,"y":16.9},{"e":1,"i":4,"x":30.9,"y":17.05},{"e":1,"i":5,"x":32.0,"y":16.7},{"e":1,"i":6,"x":32.3,"y":16.05},{"e":1,"i":7,"x":31.9,"y":15.3},{"e":1,"i":8,"x":30.6,"y":14.3},{"e":1,"i":9,"x":29.5,"y":13.5},{"e":1,"i":10,"x":28.0,"y":13.2},{"e":1,"i":11,"x":27.0,"y":13.5},
{"e":2,"i":0,"x":26.9,"y":12.3},{"e":2,"i":1,"x":27.1,"y":11.5},{"e":2,"i":2,"x":29.0,"y":11.4},{"e":2,"i":3,"x":31.1,"y":12.2},{"e":2,"i":4,"x":33.2,"y":12.9},{"e":2,"i":5,"x":34.8,"y":13.7},{"e":2,"i":6,"x":36.1,"y":14.8},{"e":2,"i":7,"x":36.2,"y":15.4},{"e":2,"i":8,"x":35.5,"y":15.86},{"e":2,"i":9,"x":33.7,"y":15.9},{"e":2,"i":10,"x":32.2,"y":15.5},{"e":2,"i":11,"x":30.5,"y":14.6},{"e":2,"i":12,"x":28.5,"y":13.6},{"e":2,"i":13,"x":27.1,"y":13.0}
],
"lg":[
{"f":"L","x":18,"y":-22,"t":"G"},{"f":"L","x":18,"y":14,"t":"T"},
{"f":"B","x":37,"y":-22,"t":"Grosse-Marguerite"},{"f":"B","x":37,"y":14,"t":"Trois-Pigeons"},
{"f":"I","x":37,"y":48,"t":"Pachycrocuta brevirostris"},{"f":"I","x":37,"y":162,"t":"Pliocrocuta perrieri"},{"f":"I","x":37,"y":233,"t":"Crocuta crocuta spelaea"},{"f":"I","x":37,"y":271,"t":"Hyaena prisca"},
{"f":"N","x":287,"y":48,"t":"- Boule, 1893 ; Galobart et al.,"},
{"f":"N","x":37,"y":68,"t":"2003 ; Howell & Petter, 1980 ; Kurtén, 1972 ; Kurtén & Garevski,"},
{"f":"N","x":37,"y":88,"t":"1989 ; Martinez-Navarro, 1992 ; Martinez-Navarro et al., 2010 ;"},
{"f":"N","x":37,"y":107,"t":"Moullé, 1992 ; Pei, 1934 ; Pons-Moyà, 1982 ; Sotnikova et al.,"},
{"f":"N","x":37,"y":126,"t":"2002 ; Turner, 2001"},
{"f":"N","x":227,"y":162,"t":"- Baryshnikov & Tsoukala, 2010 ;"},
{"f":"N","x":37,"y":182,"t":"Geraads, 1997 ; Howell & Petter, 1980 ; Kurtén, 1972 ; Kurtén &"},
{"f":"N","x":37,"y":201,"t":"Poulianos, 1977, 1981 ; Lehmann, 1957 ; Sotnikova et al., 2002"},
{"f":"N","x":274,"y":233,"t":"- Fourvel, 2012 ; Clot, 1980"},
{"f":"N","x":178,"y":271,"t":"- Harlé, 1895 ; Bonifay, 1971 ; Clot &"},
{"f":"N","x":37,"y":290,"t":"Duranthon, 1990 ; Martin-Serra com. pers."}
],
"lm":[{"s":"P","x":17,"y":48},{"s":"L","x":17,"y":161},{"s":"C","x":17,"y":233},{"s":"H","x":17,"y":271}],
"lb":[{"x":0,"y":-38,"x2":0,"y2":330},{"x":0,"y":-38,"x2":570,"y2":-38}]
},
"spacing":29,
"resolve":{"scale":{"x":"independent","y":"independent"}},
"vconcat":[
{"bounds":"flush","spacing":77,"resolve":{"scale":{"x":"independent","y":"independent"}},
"hconcat":[
{"title":"c DVL/DMD ratio (mm)","width":555,"height":266,
"layer":[
{"data":{"name":"ce"},"mark":{"type":"line","interpolate":"cardinal-closed","clip":true,"strokeDash":[2,3],"color":"#777","strokeWidth":1.1},
"encoding":{"x":{"field":"x","type":"quantitative","scale":{"domain":[13.1,24.1],"nice":false,"zero":false},"axis":{"values":[14,16,18,20,22,24],"format":"d","title":"DMD (mm)"}},"y":{"field":"y","type":"quantitative","scale":{"domain":[9.66,19.6],"nice":false,"zero":false},"axis":{"values":[10,12,14,16,18],"format":"d","title":"DVL (mm)"}},"detail":{"field":"e","type":"nominal"},"order":{"field":"i","type":"quantitative"}}},
{"data":{"name":"cl"},"mark":{"type":"line","clip":true,"color":"#111","strokeWidth":1.3},"encoding":{"x":{"field":"x","type":"quantitative"},"y":{"field":"y","type":"quantitative"},"detail":{"field":"g","type":"nominal"}}},
{"data":{"name":"cp"},"mark":{"type":"point","filled":true,"opacity":1,"stroke":"black","strokeWidth":1.2},"encoding":{"x":{"field":"x","type":"quantitative"},"y":{"field":"y","type":"quantitative"},"shape":{"field":"s","type":"nominal","scale":{"domain":["P","L","C","H"],"range":["circle","triangle-down","circle","triangle-up"]},"legend":null},"fill":{"field":"s","type":"nominal","scale":{"domain":["P","L","C","H"],"range":["rgba(0,0,0,0)","rgba(0,0,0,0)","#000000","rgba(0,0,0,0)"]},"legend":null},"size":{"field":"s","type":"nominal","scale":{"domain":["P","L","C","H"],"range":[70,95,72,95]},"legend":null}}},
{"data":{"name":"ct"},"mark":{"type":"text","font":"DejaVu Sans","fontWeight":"bold","fontSize":21,"color":"#111"},"encoding":{"x":{"field":"x","type":"quantitative"},"y":{"field":"y","type":"quantitative"},"text":{"field":"t"}}}
]},
{"title":"p2 DVL/DMD ratio (mm)","width":555,"height":266,
"layer":[
{"data":{"name":"p2e"},"mark":{"type":"line","interpolate":"cardinal-closed","clip":true,"strokeDash":[2,3],"color":"#777","strokeWidth":1.1},
"encoding":{"x":{"field":"x","type":"quantitative","scale":{"domain":[13.74,20.19],"nice":false,"zero":false},"axis":{"values":[14,15,16,17,18,19,20],"format":"d","title":"DMD (mm)"}},"y":{"field":"y","type":"quantitative","scale":{"domain":[8.82,14.74],"nice":false,"zero":false},"axis":{"values":[9,10,11,12,13,14],"labelExpr":"datum.value == 11 || datum.value == 13 ? '' : format(datum.value, 'd')","title":"DVL (mm)"}},"detail":{"field":"e","type":"nominal"},"order":{"field":"i","type":"quantitative"}}},
{"data":{"name":"p2l"},"mark":{"type":"line","clip":true,"color":"#111","strokeWidth":1.3},"encoding":{"x":{"field":"x","type":"quantitative"},"y":{"field":"y","type":"quantitative"},"detail":{"field":"g","type":"nominal"}}},
{"data":{"name":"p2p"},"mark":{"type":"point","filled":true,"opacity":1,"stroke":"black","strokeWidth":1.2},"encoding":{"x":{"field":"x","type":"quantitative"},"y":{"field":"y","type":"quantitative"},"shape":{"field":"s","type":"nominal","scale":{"domain":["P","L","C","H"],"range":["circle","triangle-down","circle","triangle-up"]},"legend":null},"fill":{"field":"s","type":"nominal","scale":{"domain":["P","L","C","H"],"range":["rgba(0,0,0,0)","rgba(0,0,0,0)","#000000","rgba(0,0,0,0)"]},"legend":null},"size":{"field":"s","type":"nominal","scale":{"domain":["P","L","C","H"],"range":[70,95,72,95]},"legend":null}}},
{"data":{"name":"p2t"},"mark":{"type":"text","font":"DejaVu Sans","fontWeight":"bold","fontSize":21,"color":"#111"},"encoding":{"x":{"field":"x","type":"quantitative"},"y":{"field":"y","type":"quantitative"},"text":{"field":"t"}}}
]}
]},
{"bounds":"flush","spacing":77,"resolve":{"scale":{"x":"independent","y":"independent"}},
"hconcat":[
{"title":"p3 DVL/DMD ratio (mm)","width":555,"height":265,
"layer":[
{"data":{"name":"p3e"},"mark":{"type":"line","interpolate":"cardinal-closed","clip":true,"strokeDash":[2,3],"color":"#777","strokeWidth":1.1},
"encoding":{"x":{"field":"x","type":"quantitative","scale":{"domain":[17.63,27.82],"nice":false,"zero":false},"axis":{"values":[18,20,22,24,26],"format":"d","title":"DMD (mm)"}},"y":{"field":"y","type":"quantitative","scale":{"domain":[12.24,19.67],"nice":false,"zero":false},"axis":{"values":[13,14,15,16,17,18,19],"labelExpr":"datum.value % 2 == 1 ? format(datum.value, 'd') : ''","title":"DVL (mm)"}},"detail":{"field":"e","type":"nominal"},"order":{"field":"i","type":"quantitative"}}},
{"data":{"name":"p3l"},"mark":{"type":"line","clip":true,"color":"#111","strokeWidth":1.3},"encoding":{"x":{"field":"x","type":"quantitative"},"y":{"field":"y","type":"quantitative"},"detail":{"field":"g","type":"nominal"}}},
{"data":{"name":"p3p"},"mark":{"type":"point","filled":true,"opacity":1,"stroke":"black","strokeWidth":1.2},"encoding":{"x":{"field":"x","type":"quantitative"},"y":{"field":"y","type":"quantitative"},"shape":{"field":"s","type":"nominal","scale":{"domain":["P","L","C","H"],"range":["circle","triangle-down","circle","triangle-up"]},"legend":null},"fill":{"field":"s","type":"nominal","scale":{"domain":["P","L","C","H"],"range":["rgba(0,0,0,0)","rgba(0,0,0,0)","#000000","rgba(0,0,0,0)"]},"legend":null},"size":{"field":"s","type":"nominal","scale":{"domain":["P","L","C","H"],"range":[70,95,72,95]},"legend":null}}},
{"data":{"name":"p3t"},"mark":{"type":"text","font":"DejaVu Sans","fontWeight":"bold","fontSize":21,"color":"#111"},"encoding":{"x":{"field":"x","type":"quantitative"},"y":{"field":"y","type":"quantitative"},"text":{"field":"t"}}}
]},
{"title":"p4 DVL/DMD ratio (mm)","width":555,"height":265,
"layer":[
{"data":{"name":"p4e"},"mark":{"type":"line","interpolate":"cardinal-closed","clip":true,"strokeDash":[2,3],"color":"#777","strokeWidth":1.1},
"encoding":{"x":{"field":"x","type":"quantitative","scale":{"domain":[20.17,29.47],"nice":false,"zero":false},"axis":{"values":[22,24,26,28],"format":"d","title":"DMD (mm)"}},"y":{"field":"y","type":"quantitative","scale":{"domain":[11.47,20.3],"nice":false,"zero":false},"axis":{"values":[12,14,16,18,20],"format":"d","title":"DVL (mm)"}},"detail":{"field":"e","type":"nominal"},"order":{"field":"i","type":"quantitative"}}},
{"data":{"name":"p4l"},"mark":{"type":"line","clip":true,"color":"#111","strokeWidth":1.3},"encoding":{"x":{"field":"x","type":"quantitative"},"y":{"field":"y","type":"quantitative"},"detail":{"field":"g","type":"nominal"}}},
{"data":{"name":"p4p"},"mark":{"type":"point","filled":true,"opacity":1,"stroke":"black","strokeWidth":1.2},"encoding":{"x":{"field":"x","type":"quantitative"},"y":{"field":"y","type":"quantitative"},"shape":{"field":"s","type":"nominal","scale":{"domain":["P","L","C","H"],"range":["circle","triangle-down","circle","triangle-up"]},"legend":null},"fill":{"field":"s","type":"nominal","scale":{"domain":["P","L","C","H"],"range":["rgba(0,0,0,0)","rgba(0,0,0,0)","#000000","rgba(0,0,0,0)"]},"legend":null},"size":{"field":"s","type":"nominal","scale":{"domain":["P","L","C","H"],"range":[70,95,72,95]},"legend":null}}},
{"data":{"name":"p4t"},"mark":{"type":"text","font":"DejaVu Sans","fontWeight":"bold","fontSize":21,"color":"#111"},"encoding":{"x":{"field":"x","type":"quantitative"},"y":{"field":"y","type":"quantitative"},"text":{"field":"t"}}}
]}
]},
{"bounds":"flush","spacing":77,"resolve":{"scale":{"x":"independent","y":"independent"}},
"hconcat":[
{"title":"m1 DVL/DMD ratio (mm)","width":555,"height":265,
"layer":[
{"data":{"name":"m1e"},"mark":{"type":"line","interpolate":"cardinal-closed","clip":true,"strokeDash":[2,3],"color":"#777","strokeWidth":1.1},
"encoding":{"x":{"field":"x","type":"quantitative","scale":{"domain":[21.37,38.6],"nice":false,"zero":false},"axis":{"values":[25,30,35],"format":"d","title":"DMD (mm)"}},"y":{"field":"y","type":"quantitative","scale":{"domain":[9.71,17.29],"nice":false,"zero":false},"axis":{"values":[10,11,12,13,14,15,16,17],"labelExpr":"datum.value % 2 == 0 ? format(datum.value, 'd') : ''","title":"DVL (mm)"}},"detail":{"field":"e","type":"nominal"},"order":{"field":"i","type":"quantitative"}}},
{"data":{"name":"m1l"},"mark":{"type":"line","clip":true,"color":"#111","strokeWidth":1.3},"encoding":{"x":{"field":"x","type":"quantitative"},"y":{"field":"y","type":"quantitative"},"detail":{"field":"g","type":"nominal"}}},
{"data":{"name":"m1p"},"mark":{"type":"point","filled":true,"opacity":1,"stroke":"black","strokeWidth":1.2},"encoding":{"x":{"field":"x","type":"quantitative"},"y":{"field":"y","type":"quantitative"},"shape":{"field":"s","type":"nominal","scale":{"domain":["P","L","C","H"],"range":["circle","triangle-down","circle","triangle-up"]},"legend":null},"fill":{"field":"s","type":"nominal","scale":{"domain":["P","L","C","H"],"range":["rgba(0,0,0,0)","rgba(0,0,0,0)","#000000","rgba(0,0,0,0)"]},"legend":null},"size":{"field":"s","type":"nominal","scale":{"domain":["P","L","C","H"],"range":[70,95,72,95]},"legend":null}}},
{"data":{"name":"m1t"},"mark":{"type":"text","font":"DejaVu Sans","fontWeight":"bold","fontSize":21,"color":"#111"},"encoding":{"x":{"field":"x","type":"quantitative"},"y":{"field":"y","type":"quantitative"},"text":{"field":"t"}}}
]},
{"width":555,"height":265,"view":{"stroke":null},
"layer":[
{"data":{"name":"lb"},"mark":{"type":"rule","color":"#333","strokeWidth":1.5},"encoding":{"x":{"field":"x","type":"quantitative","scale":{"domain":[0,555],"nice":false,"zero":false},"axis":null},"y":{"field":"y","type":"quantitative","scale":{"domain":[0,265],"nice":false,"zero":false,"reverse":true},"axis":null},"x2":{"field":"x2"},"y2":{"field":"y2"}}},
{"data":{"name":"lg"},"transform":[{"filter":"datum.f == 'L'"}],"mark":{"type":"text","font":"DejaVu Sans","fontWeight":"bold","fontSize":20,"align":"center","baseline":"middle","color":"#111"},"encoding":{"x":{"field":"x","type":"quantitative"},"y":{"field":"y","type":"quantitative"},"text":{"field":"t"}}},
{"data":{"name":"lg"},"transform":[{"filter":"datum.f == 'B'"}],"mark":{"type":"text","font":"DejaVu Sans","fontWeight":"bold","fontSize":19,"align":"left","baseline":"middle","color":"#111"},"encoding":{"x":{"field":"x","type":"quantitative"},"y":{"field":"y","type":"quantitative"},"text":{"field":"t"}}},
{"data":{"name":"lg"},"transform":[{"filter":"datum.f == 'I'"}],"mark":{"type":"text","font":"DejaVu Sans","fontWeight":"bold","fontStyle":"italic","fontSize":16.5,"align":"left","baseline":"middle","color":"#111"},"encoding":{"x":{"field":"x","type":"quantitative"},"y":{"field":"y","type":"quantitative"},"text":{"field":"t"}}},
{"data":{"name":"lg"},"transform":[{"filter":"datum.f == 'N'"}],"mark":{"type":"text","font":"DejaVu Sans","fontSize":15.5,"align":"left","baseline":"middle","color":"#222"},"encoding":{"x":{"field":"x","type":"quantitative"},"y":{"field":"y","type":"quantitative"},"text":{"field":"t"}}},
{"data":{"name":"lm"},"mark":{"type":"point","filled":true,"opacity":1,"stroke":"black","strokeWidth":1.1,"size":45},"encoding":{"x":{"field":"x","type":"quantitative"},"y":{"field":"y","type":"quantitative"},"shape":{"field":"s","type":"nominal","scale":{"domain":["P","L","C","H"],"range":["circle","triangle-down","circle","triangle-up"]},"legend":null},"fill":{"field":"s","type":"nominal","scale":{"domain":["P","L","C","H"],"range":["rgba(0,0,0,0)","rgba(0,0,0,0)","#000000","rgba(0,0,0,0)"]},"legend":null}}}
]}
]}
],
"config":{
"view":{"stroke":"#333","strokeWidth":1.5},
"axis":{"domain":false,"grid":false,"tickColor":"#333","tickSize":9,"tickWidth":1.2,"offset":2,"labelFont":"Liberation Sans","labelFontSize":21,"labelColor":"#111","labelPadding":3,"labelFlush":false,"labelOverlap":false,"titleFont":"Liberation Sans","titleFontSize":21,"titleFontWeight":"normal","titleColor":"#111","titlePadding":0},
"axisX":{"titleAlign":"right","titleBaseline":"alphabetic","titleX":553,"titleY":-9,"titleAngle":0},
"axisY":{"labelAngle":-90,"titleAngle":-90,"titleAlign":"right","titleBaseline":"top","titleX":8,"titleY":4},
"title":{"font":"Liberation Sans","fontSize":24,"fontWeight":"bold","color":"#111","offset":8,"anchor":"middle"}
}
}
